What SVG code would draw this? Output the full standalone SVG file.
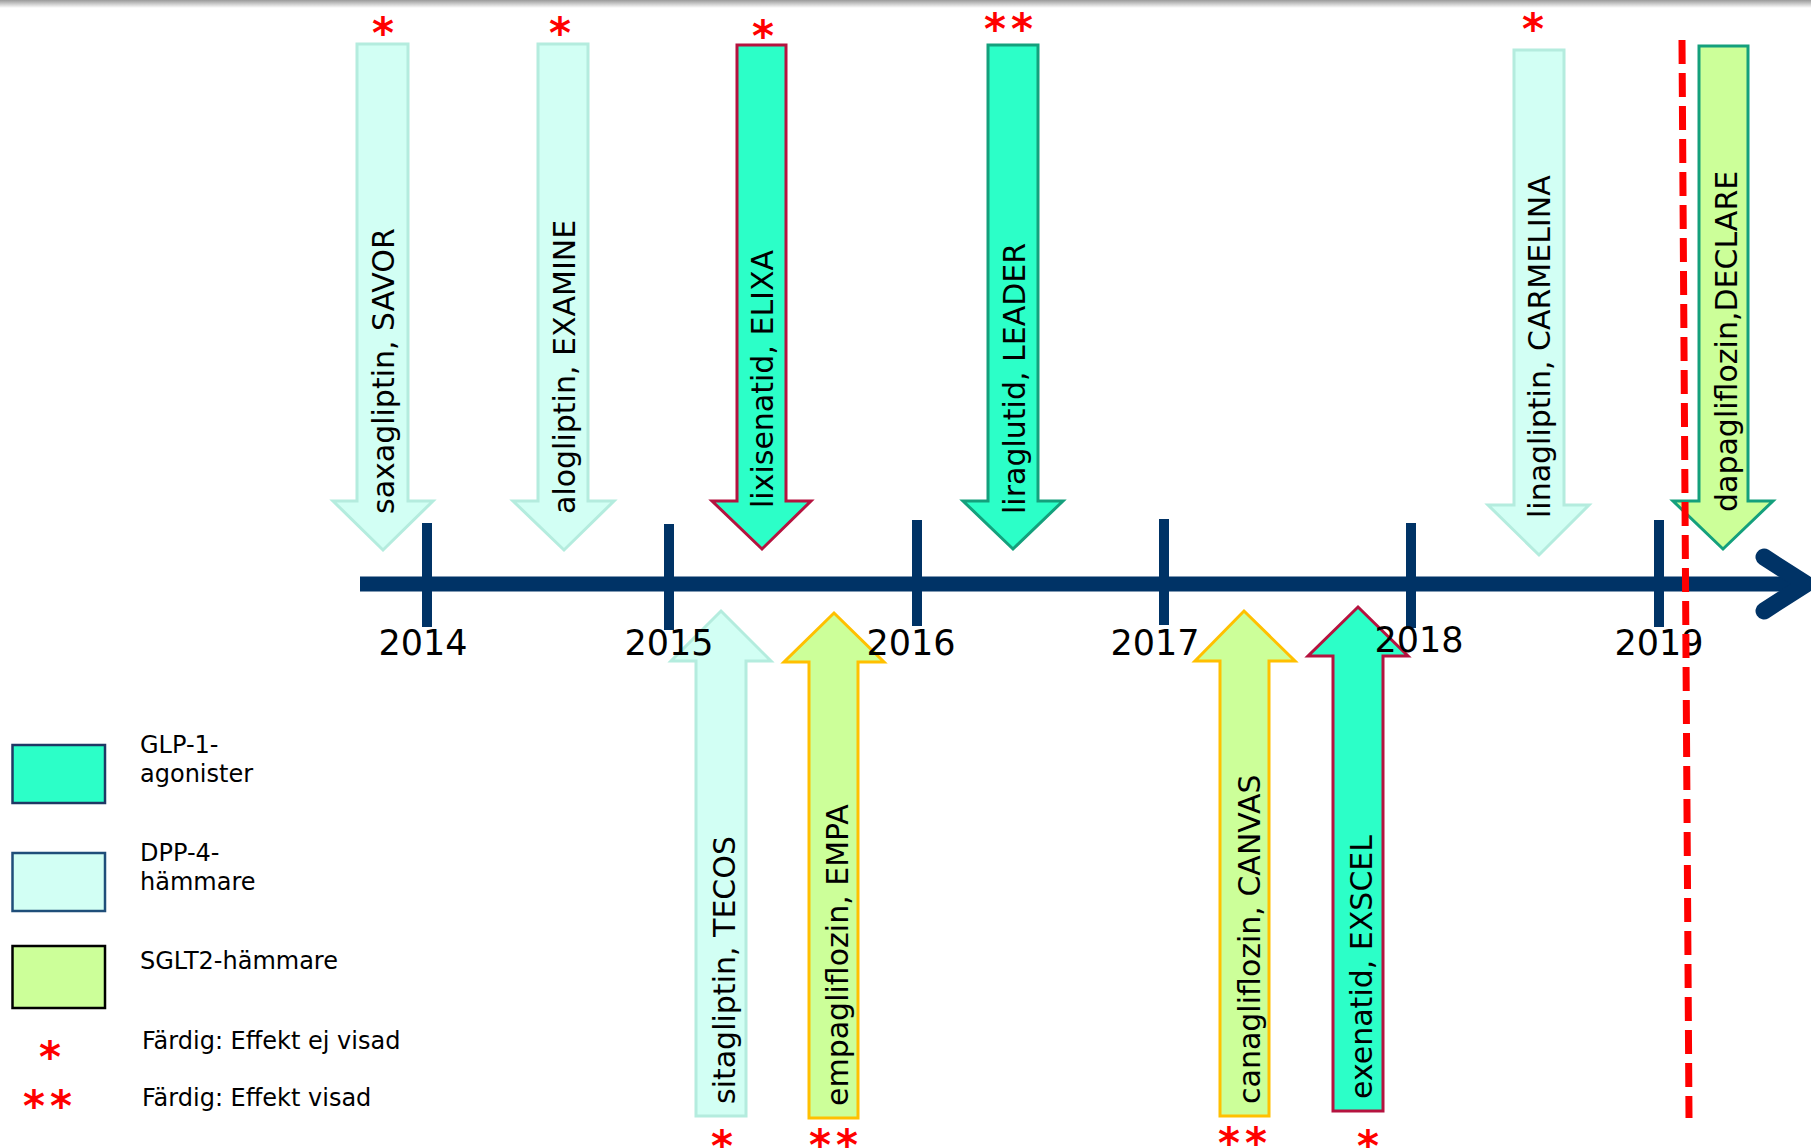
<svg xmlns="http://www.w3.org/2000/svg" width="1811" height="1148" viewBox="0 0 1811 1148">
<defs>
<linearGradient id="topShade" x1="0" y1="0" x2="0" y2="1"><stop offset="0" stop-color="#9a9a9a"/><stop offset="1" stop-color="#ffffff"/></linearGradient>
<style>
.lbl{font-family:"DejaVu Sans",Verdana,sans-serif;font-size:30px;fill:#000}
.yr{font-family:"DejaVu Sans",Verdana,sans-serif;font-size:35px;fill:#000;text-anchor:middle}
.leg{font-family:"DejaVu Sans",Verdana,sans-serif;font-size:24px;fill:#000}
.ast{font-family:"DejaVu Sans",Verdana,sans-serif;font-weight:bold;font-size:42px;fill:#ff0000;text-anchor:middle}
.glp{fill:#2cffc8}
.dpp{fill:#d2fff4;stroke:#b4ecde;stroke-width:3}
.sglt{fill:#ccff99}
.red{stroke:#b5133f;stroke-width:3}
.grn{stroke:#14a07c;stroke-width:3}
.yel{stroke:#ffc000;stroke-width:3}
.axis{stroke:#003366;fill:none}
</style>
</defs>
<rect x="0" y="0" width="1811" height="1148" fill="#ffffff"/>
<rect x="0" y="0" width="1811" height="8" fill="url(#topShade)"/>

<g id="connectors">
<g id="timeline">
<line class="axis" x1="360" y1="584" x2="1806" y2="584" stroke-width="15"/>
<polyline class="axis" points="1764,557 1806,584 1764,611" stroke-width="17" stroke-linecap="round" stroke-linejoin="round"/>
<rect x="422" y="523" width="10" height="104" fill="#003366"/>
<rect x="664" y="524" width="10" height="106" fill="#003366"/>
<rect x="912" y="520" width="10" height="106" fill="#003366"/>
<rect x="1159" y="519" width="10" height="106" fill="#003366"/>
<rect x="1406" y="523" width="10" height="105" fill="#003366"/>
<rect x="1654" y="520" width="10" height="107" fill="#003366"/>
</g>
</g>

<g id="saxagliptin">
<polygon class="dpp" points="357,44 408,44 408,501 433,501 383,550 333,501 357,501"/>
<text class="lbl" transform="translate(394,514) rotate(-90)">saxagliptin, SAVOR</text>
<text class="ast" x="383" y="48">*</text>
</g>
<g id="alogliptin">
<polygon class="dpp" points="538,44 588,44 588,501 614,501 564,550 513,501 538,501"/>
<text class="lbl" transform="translate(575,514) rotate(-90)">alogliptin, EXAMINE</text>
<text class="ast" x="560" y="48">*</text>
</g>
<g id="lixisenatid">
<polygon class="glp red" points="737,45 786,45 786,501 811,501 762,549 712,501 737,501"/>
<text class="lbl" transform="translate(773,508) rotate(-90)">lixisenatid, ELIXA</text>
<text class="ast" x="763" y="51">*</text>
</g>
<g id="liraglutid">
<polygon class="glp grn" points="988,45 1038,45 1038,501 1063,501 1013,549 963,501 988,501"/>
<text class="lbl" transform="translate(1025,514) rotate(-90)">liraglutid, LEADER</text>
<text class="ast" x="995 1022" y="44">**</text>
</g>
<g id="linagliptin">
<polygon class="dpp" points="1514,50 1564,50 1564,505 1589,505 1539,555 1488,505 1514,505"/>
<text class="lbl" transform="translate(1550,518) rotate(-90)">linagliptin, CARMELINA</text>
<text class="ast" x="1533" y="44">*</text>
</g>
<g id="dapagliflozin">
<polygon class="sglt grn" points="1699,46 1748,46 1748,501 1773,501 1723,549 1673,501 1699,501"/>
<text class="lbl" transform="translate(1737,512) rotate(-90)">dapagliflozin,DECLARE</text>
</g>

<g id="sitagliptin">
<polygon class="dpp" points="721,611 771,661 746,661 746,1116 696,1116 696,661 671,661"/>
<text class="lbl" transform="translate(735,1104) rotate(-90)">sitagliptin, TECOS</text>
<text class="ast" x="722" y="1161">*</text>
</g>
<g id="empagliflozin">
<polygon class="sglt yel" points="834,613 884,662 858,662 858,1118 809,1118 809,662 784,662"/>
<text class="lbl" transform="translate(848,1106) rotate(-90)">empagliflozin, EMPA</text>
<text class="ast" x="820 847" y="1160">**</text>
</g>
<g id="canagliflozin">
<polygon class="sglt yel" points="1244,611 1295,661 1269,661 1269,1116 1220,1116 1220,661 1195,661"/>
<text class="lbl" transform="translate(1260,1104) rotate(-90)">canagliflozin, CANVAS</text>
<text class="ast" x="1229 1256" y="1158">**</text>
</g>
<g id="exenatid">
<polygon class="glp red" points="1358,607 1408,656 1383,656 1383,1111 1333,1111 1333,656 1308,656"/>
<text class="lbl" transform="translate(1372,1099) rotate(-90)">exenatid, EXSCEL</text>
<text class="ast" x="1368" y="1161">*</text>
</g>

<g id="years">
<text class="yr" x="423" y="655">2014</text>
<text class="yr" x="669" y="655">2015</text>
<text class="yr" x="911" y="655">2016</text>
<text class="yr" x="1155" y="655">2017</text>
<text class="yr" x="1419" y="652">2018</text>
<text class="yr" x="1659" y="655">2019</text>
</g>

<g id="cutoff">
<line x1="1682" y1="40" x2="1689" y2="1118" stroke="#ff0000" stroke-width="7" stroke-dasharray="24 9"/>
</g>

<g id="legend">
<g id="legend-glp1">
<rect x="12.5" y="745" width="92.5" height="58" fill="#2cffc8" stroke="#1f3864" stroke-width="2.5"/>
<text class="leg" x="140" y="753">GLP-1-</text>
<text class="leg" x="140" y="782">agonister</text>
</g>
<g id="legend-dpp4">
<rect x="12.5" y="853" width="92.5" height="58" fill="#d2fff4" stroke="#1f4e79" stroke-width="2.5"/>
<text class="leg" x="140" y="861">DPP-4-</text>
<text class="leg" x="140" y="890">hämmare</text>
</g>
<g id="legend-sglt2">
<rect x="12.5" y="946" width="92.5" height="62" fill="#ccff99" stroke="#000000" stroke-width="2.5"/>
<text class="leg" x="140" y="969">SGLT2-hämmare</text>
</g>
<g id="legend-star1">
<text class="ast" x="50" y="1072">*</text>
<text class="leg" x="142" y="1049">Färdig: Effekt ej visad</text>
</g>
<g id="legend-star2">
<text class="ast" x="34 61" y="1121">**</text>
<text class="leg" x="142" y="1106">Färdig: Effekt visad</text>
</g>
</g>
</svg>
